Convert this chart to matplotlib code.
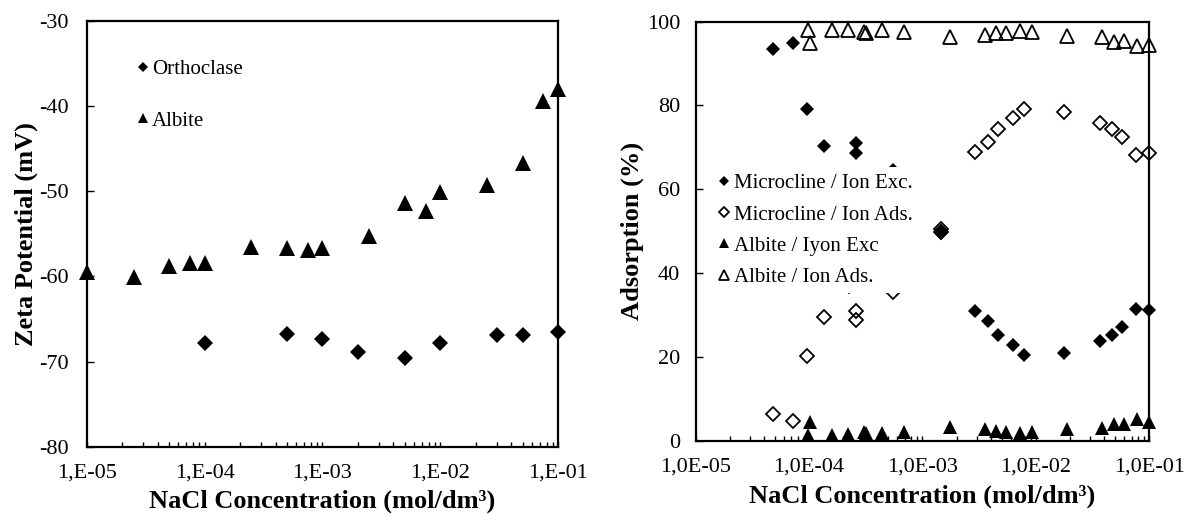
import numpy as np
import matplotlib
matplotlib.use("Agg")
import matplotlib.pyplot as plt
from matplotlib.ticker import LogLocator, FixedLocator, FuncFormatter, NullFormatter

plt.rcParams['font.family'] = ['Liberation Serif', 'DejaVu Serif']
plt.rcParams['axes.unicode_minus'] = False

# ---- left panel: zeta potential ----
orth_x = [1e-4, 5e-4, 1e-3, 2e-3, 5e-3, 1e-2, 3e-2, 5e-2, 1e-1]
orth_y = [-67.8, -66.8, -67.3, -68.9, -69.6, -67.8, -66.9, -66.9, -66.5]

alb_x = [1e-5, 2.5e-5, 5e-5, 7.5e-5, 1e-4, 2.5e-4, 5e-4, 7.5e-4, 1e-3,
         2.5e-3, 5e-3, 7.5e-3, 1e-2, 2.5e-2, 5e-2, 7.5e-2, 1e-1]
alb_y = [-59.5, -60.1, -58.8, -58.4, -58.4, -56.6, -56.7, -56.9, -56.7,
         -55.2, -51.4, -52.3, -50.1, -49.3, -46.7, -39.4, -38.0]

# ---- right panel: adsorption ----
mic_x = [4.8e-5, 7.2e-5, 9.5e-5, 1.35e-4, 2.6e-4, 2.6e-4, 2.26e-4, 5.5e-4,
         1.47e-3, 1.47e-3, 2.88e-3, 3.8e-3, 4.6e-3, 6.3e-3, 7.85e-3,
         1.76e-2, 3.7e-2, 4.7e-2, 5.7e-2, 7.7e-2, 1.0e-1]
mic_exc = [93.4, 94.8, 79.2, 70.3, 71.1, 68.7, 63.0, 64.5, 50.1, 49.5,
           31.0, 28.6, 25.3, 22.9, 20.5, 21.1, 23.8, 25.3, 27.1, 31.5, 31.2]
mic_ads = [6.4, 4.8, 20.3, 29.5, 28.8, 31.0, 37.0, 35.5, 49.9, 50.5,
           68.8, 71.2, 74.5, 76.9, 79.1, 78.5, 75.9, 74.5, 72.5, 68.3, 68.6]

alb2_x = [9.8e-5, 1.02e-4, 1.6e-4, 2.2e-4, 3.05e-4, 3.2e-4, 4.4e-4, 6.9e-4,
          1.75e-3, 3.56e-3, 4.5e-3, 5.5e-3, 7.2e-3, 9.3e-3, 1.9e-2,
          3.8e-2, 4.9e-2, 6.0e-2, 7.8e-2, 1.0e-1]
alb_exc = [1.4, 4.6, 1.4, 1.7, 2.2, 1.8, 1.8, 2.2, 3.4, 2.8, 2.5, 2.2,
           2.0, 2.1, 2.8, 3.0, 4.0, 4.0, 5.2, 4.6]
alb_ads = [98.0, 95.0, 98.1, 98.1, 97.6, 97.2, 98.0, 97.6, 96.2, 96.8, 97.2,
           97.3, 97.8, 97.4, 96.5, 96.4, 95.2, 95.4, 94.2, 94.4]

decades = [1e-5, 1e-4, 1e-3, 1e-2, 1e-1]
xlab = 'NaCl Concentration (mol/dm\u00b3)'

fig = plt.figure(figsize=(11.92, 5.14), dpi=100)
ax1 = fig.add_axes([0.0727, 0.1309, 0.3956, 0.8282])
ax2 = fig.add_axes([0.5836, 0.1420, 0.3805, 0.8161])


def style_axis(ax, fmt, ypad):
    ax.set_xscale('log')
    ax.set_xlim(1e-5, 1e-1)
    for s in ax.spines.values():
        s.set_linewidth(1.6)
    ax.xaxis.set_major_locator(FixedLocator(decades))
    ax.xaxis.set_minor_locator(LogLocator(base=10, subs=np.arange(2, 10)))
    ax.xaxis.set_minor_formatter(NullFormatter())
    ax.xaxis.set_major_formatter(FuncFormatter(fmt))
    ax.tick_params(axis='x', which='both', direction='in', length=3.5,
                   width=1.0, labelsize=16, pad=12, top=False)
    ax.tick_params(axis='y', which='major', direction='in', length=5,
                   width=1.0, labelsize=16, right=False, pad=ypad)


style_axis(ax1, lambda v, p: "1,E-%02d" % round(-np.log10(v)), 13)
ax1.set_ylim(-80, -30)
ax1.set_yticks(np.arange(-80, -29, 10))
ax1.plot(orth_x, orth_y, 'D', color='black', ms=8, mew=0, clip_on=False,
         zorder=3, label='Orthoclase')
ax1.plot(alb_x, alb_y, '^', color='black', ms=11, mew=0, clip_on=False,
         zorder=3, label='Albite')
ax1.set_xlabel(xlab, fontsize=19, fontweight='bold', labelpad=5)
ax1.set_ylabel('Zeta Potential (mV)', fontsize=19, fontweight='bold',
               labelpad=1)
ax1.legend(loc='upper left', bbox_to_anchor=(0.085, 0.934), frameon=False,
           fontsize=15, handlelength=0.6, handletextpad=0.1,
           labelspacing=1.54, markerscale=0.66, borderpad=0)

style_axis(ax2, lambda v, p: "1,0E-%02d" % round(-np.log10(v)), 11)
ax2.set_ylim(0, 100)
ax2.set_yticks(np.arange(0, 101, 20))
ax2.plot(mic_x, mic_exc, 'D', color='black', ms=7, mew=0, clip_on=False,
         zorder=3, label='Microcline / Ion Exc.')
ax2.plot(mic_x, mic_ads, 'D', mfc='none', mec='black', ms=7, mew=1.3,
         clip_on=False, zorder=3, label='Microcline / Ion Ads.')
ax2.plot(alb2_x, alb_exc, '^', color='black', ms=10.5, mew=0, clip_on=False,
         zorder=3, label='Albite / Iyon Exc')
ax2.plot(alb2_x, alb_ads, '^', mfc='none', mec='black', ms=10.5, mew=1.3,
         clip_on=False, zorder=3, label='Albite / Ion Ads.')
ax2.set_xlabel(xlab, fontsize=19, fontweight='bold', labelpad=6)
ax2.set_ylabel('Adsorption (%)', fontsize=19, fontweight='bold', labelpad=2)
leg = ax2.legend(loc='upper left', bbox_to_anchor=(0.011, 0.677), frameon=True,
                 facecolor='white', edgecolor='none', framealpha=1,
                 fontsize=15, handlelength=0.6, handletextpad=0.2,
                 labelspacing=0.56, markerscale=0.7, borderpad=0.3,
                 fancybox=False)
leg.set_zorder(6)

fig.savefig('out.png', dpi=100)
